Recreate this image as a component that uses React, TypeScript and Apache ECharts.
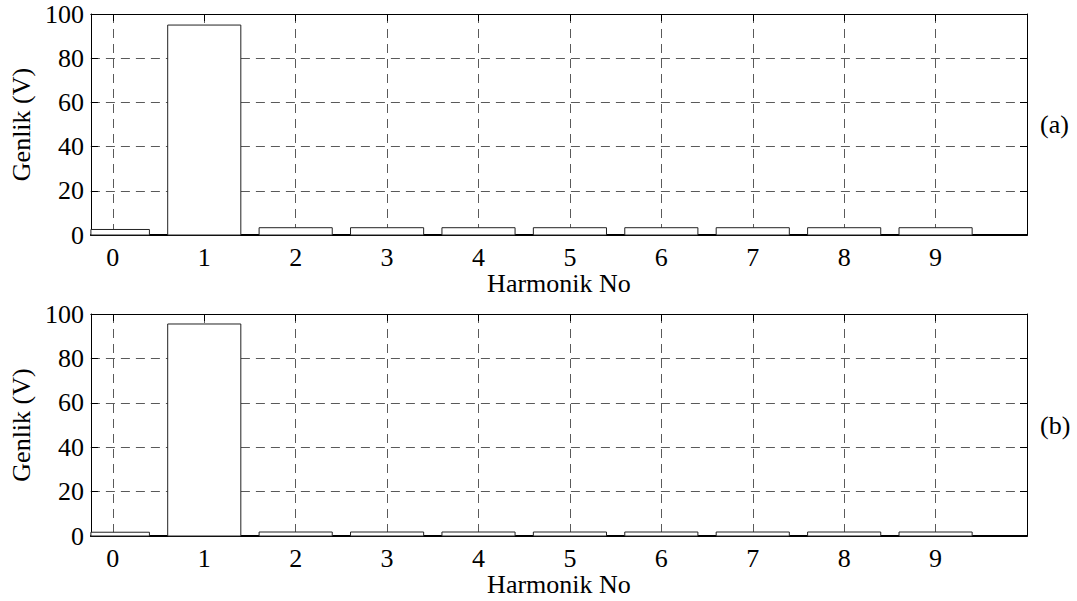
import React, { useEffect, useRef } from "react";
import * as echarts from "echarts";

// Harmonic orders on the horizontal axis
const harmonics = [0, 1, 2, 3, 4, 5, 6, 7, 8, 9];
// Amplitude spectrum, panel (a)
const amplitudeA = [2.5, 95, 3.3, 3.3, 3.3, 3.3, 3.3, 3.3, 3.3, 3.3];
// Amplitude spectrum, panel (b)
const amplitudeB = [1.7, 95.5, 1.8, 1.8, 1.8, 1.8, 1.8, 1.8, 1.8, 1.8];
const yTicks = [0, 20, 40, 60, 80, 100];
const panelLabels = ["(a)", "(b)"];
const xAxisTitle = "Harmonik No";
const yAxisTitle = "Genlik (V)";

const X_MIN = -0.24;
const X_MAX = 10;
const BAR_WIDTH = 0.8;
const FONT = "Liberation Serif";
const FONT_SIZE = 26;

const grids = [
  { left: 89, top: 14, width: 938, height: 221 },
  { left: 89, top: 314, width: 938, height: 222 },
];

const gridLine = { show: true, lineStyle: { color: "#5a5a5a", width: 1, type: [9, 6] as any } };
const frameLine = { show: true, onZero: false, lineStyle: { color: "#000", width: 1 } };
const textStyle = { color: "#000", fontFamily: FONT, fontSize: FONT_SIZE };

function barRenderer(params: any, api: any) {
  const x = api.value(0);
  const v = api.value(1);
  const p0 = api.coord([x - BAR_WIDTH / 2, v]);
  const p1 = api.coord([x + BAR_WIDTH / 2, 0]);
  const cs = params.coordSys;
  const shape = echarts.graphic.clipRectByRect(
    { x: p0[0], y: p0[1], width: p1[0] - p0[0], height: p1[1] - p0[1] },
    { x: cs.x, y: cs.y, width: cs.width, height: cs.height }
  );
  if (!shape) return null;
  return {
    type: "rect",
    shape,
    style: { fill: "#fff", stroke: "#222", lineWidth: 1 },
  };
}

export default function App() {
  const ref = useRef<HTMLDivElement>(null);

  useEffect(() => {
    if (!ref.current) return;
    const chart = echarts.init(ref.current, undefined, { renderer: "svg" });

    const xAxes: any[] = [];
    const yAxes: any[] = [];
    grids.forEach((_, gi) => {
      xAxes.push({
        type: "value",
        gridIndex: gi,
        position: "bottom",
        min: X_MIN,
        max: X_MAX,
        axisLine: { show: true, onZero: false, lineStyle: { color: "#000", width: 2 } },
        axisTick: { show: false, customValues: harmonics },
        axisLabel: { ...textStyle, margin: 9, customValues: harmonics, formatter: (v: number) => String(v) },
        splitLine: gridLine,
        name: xAxisTitle,
        nameLocation: "middle",
        nameGap: 35,
        nameTextStyle: textStyle,
      });
      xAxes.push({
        type: "value",
        gridIndex: gi,
        position: "top",
        min: X_MIN,
        max: X_MAX,
        axisLine: frameLine,
        axisTick: { show: true, inside: true, length: 7, customValues: harmonics, lineStyle: { color: "#000" } },
        axisLabel: { show: false },
        splitLine: { show: false },
      });
      yAxes.push({
        type: "value",
        gridIndex: gi,
        position: "left",
        min: 0,
        max: 100,
        interval: 20,
        axisLine: frameLine,
        axisTick: { show: true, inside: true, length: 7, customValues: yTicks, lineStyle: { color: "#000" } },
        axisLabel: { ...textStyle, margin: 7, customValues: yTicks },
        splitLine: gridLine,
        name: yAxisTitle,
        nameLocation: "middle",
        nameRotate: 90,
        nameGap: 53,
        nameTextStyle: textStyle,
      });
      yAxes.push({
        type: "value",
        gridIndex: gi,
        position: "right",
        min: 0,
        max: 100,
        interval: 20,
        axisLine: frameLine,
        axisTick: { show: true, inside: true, length: 7, lineStyle: { color: "#000" } },
        axisLabel: { show: false },
        splitLine: { show: false },
      });
    });

    const panels = [amplitudeA, amplitudeB];

    chart.setOption({
      animation: false,
      backgroundColor: "#fff",
      grid: grids.map((g) => ({ ...g, show: false })),
      xAxis: xAxes,
      yAxis: yAxes,
      series: panels.map((vals, gi) => ({
        type: "custom",
        xAxisIndex: gi * 2,
        yAxisIndex: gi * 2,
        renderItem: barRenderer,
        encode: { x: 0, y: 1 },
        data: harmonics.map((h, i) => [h, vals[i]]),
        z: 3,
      })),
      graphic: panelLabels.map((label, gi) => ({
        type: "text",
        x: 1040,
        y: grids[gi].top + grids[gi].height / 2,
        style: {
          text: label,
          fill: "#000",
          font: `${FONT_SIZE}px "${FONT}"`,
          verticalAlign: "middle",
        },
      })),
    });

    return () => chart.dispose();
  }, []);

  return (
    <div
      ref={ref}
      style={{ position: "absolute", left: 0, top: 0, width: 1077, height: 601 }}
    />
  );
}
